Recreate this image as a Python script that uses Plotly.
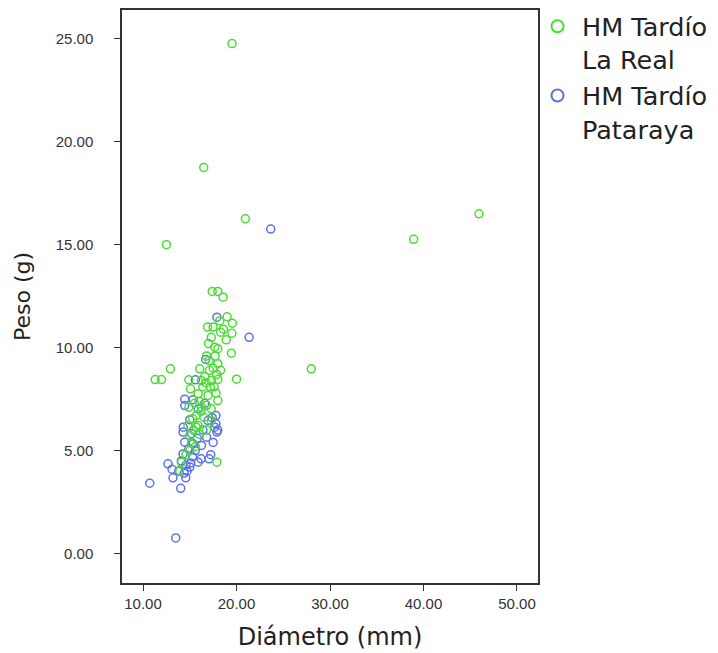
import plotly.graph_objects as go

# HM Tardío La Real (green)
real_diam = [19.52, 16.49, 20.95, 12.5, 38.95, 45.94, 28.0, 20.0, 11.3, 11.97, 12.93,
             17.4, 18.0, 18.56, 19.0, 19.56, 16.9, 17.5, 18.3, 19.5, 18.9, 17.67, 18.0, 19.45,
             17.06, 18.0, 16.06, 17.1, 17.9, 14.9, 16.25, 17.3, 18.0, 15.07, 16.4, 17.6, 18.0,
             15.9, 16.95, 14.9, 16.25, 17.3, 15.3, 16.5, 17.3, 15.7, 15.0, 15.9, 14.8, 15.7,
             15.0, 14.1, 13.9, 17.9,
             16.8, 17.5, 16.6, 17.2, 16.0, 17.8, 18.3, 16.8, 15.5, 16.2, 15.4, 16.0, 16.8, 15.2,
             15.6, 14.6, 17.0, 18.6, 18.2, 17.3, 16.7, 17.7]
real_peso = [24.77, 18.75, 16.26, 15.0, 15.26, 16.5, 8.97, 8.47, 8.45, 8.45, 8.97,
             12.73, 12.73, 12.45, 11.5, 11.19, 11.0, 11.0, 10.75, 10.7, 10.38, 10.02, 9.95, 9.73,
             9.38, 9.22, 8.97, 8.9, 8.7, 8.44, 8.4, 8.4, 8.45, 8.0, 8.1, 8.1, 7.43,
             7.76, 7.68, 7.1, 7.1, 7.03, 6.55, 6.62, 6.46, 6.14, 5.73, 6.22, 6.22, 6.7,
             5.0, 4.44, 4.03, 4.44,
             9.6, 9.0, 8.6, 8.1, 7.4, 7.8, 8.9, 7.2, 7.3, 6.9, 6.0, 5.8, 6.0, 5.4,
             5.2, 4.8, 10.2, 10.9, 11.3, 10.5, 8.3, 9.6]

# HM Tardío Pataraya (blue)
pata_diam = [10.72, 14.03, 13.5, 12.67, 13.2, 14.57, 13.1, 17.24, 17.06, 15.9, 15.0, 14.28,
             14.1, 14.46, 15.35, 16.25, 14.28, 15.2, 16.8, 17.9, 17.8, 16.95, 14.46, 15.9,
             14.46, 15.35, 15.6, 16.7, 17.9, 21.35, 23.66, 14.3, 17.8, 17.67, 13.8, 14.6,
             15.3, 15.6, 14.9, 15.0, 16.4, 17.5, 16.2, 14.7, 15.8, 15.1, 14.4, 18.0, 17.4, 16.6]
pata_peso = [3.42, 3.17, 0.76, 4.36, 3.68, 3.68, 4.1, 4.8, 4.6, 4.44, 4.2, 4.84,
             4.5, 5.41, 5.33, 5.25, 5.9, 5.82, 5.65, 5.9, 6.3, 6.46, 7.19, 7.03,
             7.5, 7.47, 8.44, 9.43, 11.48, 10.5, 15.76, 6.14, 6.7, 6.14, 4.0, 4.3,
             4.7, 5.0, 5.1, 6.5, 6.0, 5.4, 4.6, 4.0, 5.6, 4.4, 3.9, 6.0, 6.6, 7.3]

x_ticks = [10, 20, 30, 40, 50]
x_labels = ["10.00", "20.00", "30.00", "40.00", "50.00"]
y_ticks = [0, 5, 10, 15, 20, 25]
y_labels = ["0.00", "5.00", "10.00", "15.00", "20.00", "25.00"]

GREEN = "#48dd30"
BLUE = "#5d72e6"
FONT = "DejaVu Sans, Verdana, sans-serif"
TICKFONT = "Liberation Sans, Arial, Helvetica, sans-serif"

fig = go.Figure()
fig.add_trace(go.Scatter(
    x=pata_diam, y=pata_peso, mode="markers", name="HM Tardío<br>Pataraya",
    marker=dict(symbol="circle-open", size=8, color=BLUE, line=dict(width=1.5, color=BLUE)),
    legendrank=2,
))
fig.add_trace(go.Scatter(
    x=real_diam, y=real_peso, mode="markers", name="HM Tardío<br>La Real",
    marker=dict(symbol="circle-open", size=8, color=GREEN, line=dict(width=1.5, color=GREEN)),
    legendrank=1,
))

axis_common = dict(
    showline=True, mirror=True, linecolor="#333333", linewidth=1.5,
    ticks="outside", ticklen=6, tickwidth=1.2, tickcolor="#333333",
    showgrid=False, zeroline=False,
    tickfont=dict(family=TICKFONT, size=15, color="#333333"),
)

fig.update_layout(
    width=718, height=653,
    margin=dict(l=114, r=188, t=2, b=78, autoexpand=False),
    paper_bgcolor="white", plot_bgcolor="white",
    font=dict(family=FONT),
    xaxis=dict(range=[7.75, 52.25], tickvals=x_ticks, ticktext=x_labels,
               title=dict(text="\u00a0\u00a0\u00a0Diámetro (mm)",
                          font=dict(family=FONT, size=24, color="#222222"), standoff=17),
               **axis_common),
    yaxis=dict(range=[-1.43, 26.4], tickvals=y_ticks, ticktext=y_labels,
               ticklabelstandoff=18,
               title=dict(text="Peso (g)", font=dict(family=FONT, size=22, color="#222222"), standoff=19),
               **axis_common),
    legend=dict(x=0.988, xanchor="left", y=1.012, yanchor="top", valign="top",
                font=dict(family=FONT, size=25.5, color="#222222"),
                itemsizing="constant", itemwidth=39, tracegroupgap=0, bgcolor="rgba(0,0,0,0)"),
    showlegend=True,
)

fig.write_html("out.html")
